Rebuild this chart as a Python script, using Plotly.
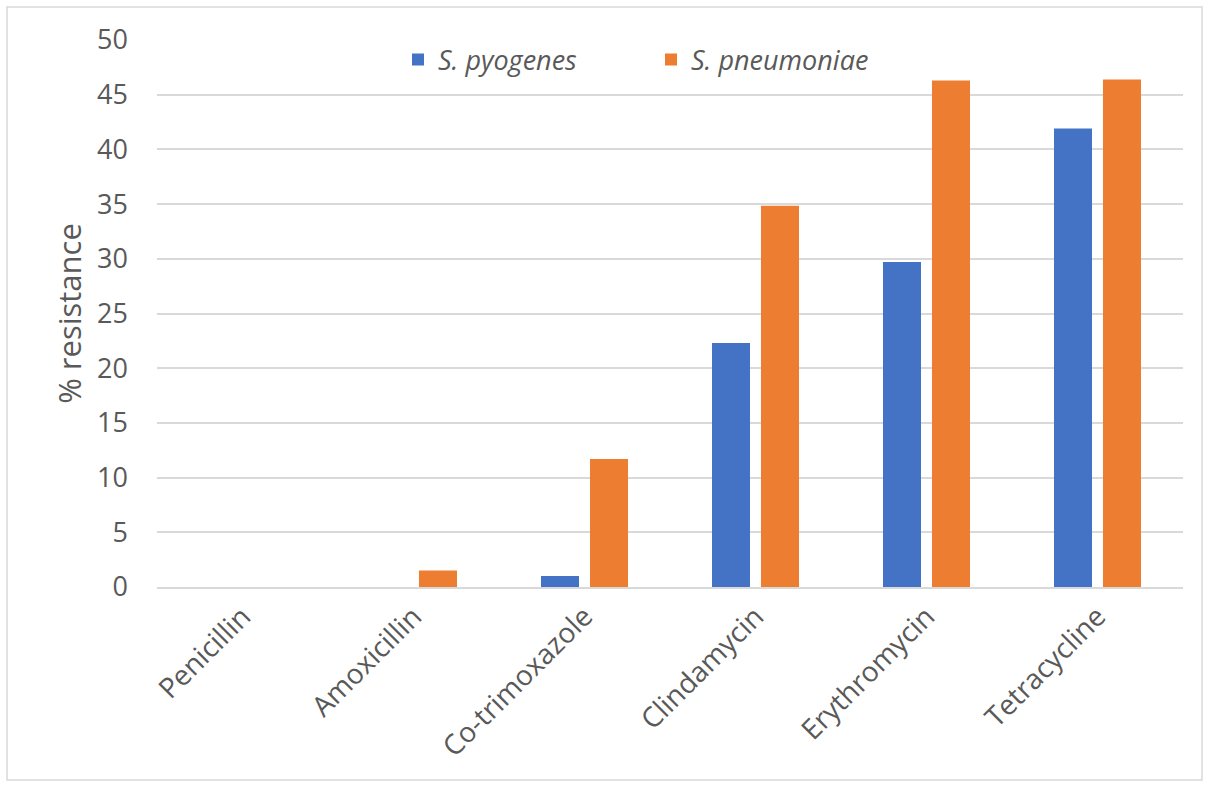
import plotly.graph_objects as go

categories = ["Penicillin", "Amoxicillin", "Co-trimoxazole", "Clindamycin", "Erythromycin", "Tetracycline"]
s_pyogenes = [0, 0, 1.0, 22.3, 29.7, 41.9]
s_pneumoniae = [0, 1.5, 11.7, 34.85, 46.3, 46.4]
y_ticks = [0, 5, 10, 15, 20, 25, 30, 35, 40, 45, 50]

W, H = 1209, 787
ML, MR, MT, MB = 157, 26, 40, 200

fig = go.Figure()
fig.add_trace(go.Bar(name="<i>S. pyogenes</i>", x=categories, y=s_pyogenes,
                     marker=dict(color="#4472C4", line=dict(width=0))))
fig.add_trace(go.Bar(name="<i>S. pneumoniae</i>", x=categories, y=s_pneumoniae,
                     marker=dict(color="#ED7D31", line=dict(width=0))))

pw = W - ML - MR
ph = H - MT - MB

fig.update_layout(
    width=W, height=H,
    margin=dict(l=ML, r=MR, t=MT, b=MB),
    paper_bgcolor="white", plot_bgcolor="white",
    barmode="group", bargap=0.427, bargroupgap=0.224,
    font=dict(family="Open Sans, Noto Sans, sans-serif", color="#595959", size=27),
    showlegend=True,
    legend=dict(orientation="h", x=(398 - ML) / pw, y=(587 - 60) / ph, xanchor="left", yanchor="middle",
                font=dict(size=27, color="#595959"), bgcolor="rgba(255,255,255,0)",
                itemwidth=30, traceorder="normal", entrywidth=208),
    xaxis=dict(tickangle=-45, showgrid=False, showline=True, linecolor="#d9d9d9", linewidth=2,
               tickfont=dict(size=28, color="#595959"), ticks=""),
    yaxis=dict(range=[0, 50], tickvals=y_ticks, showgrid=True, gridcolor="#d9d9d9", gridwidth=1.5,
               zeroline=False, showline=False, ticks="", ticklabelstandoff=28,
               tickfont=dict(size=27, color="#595959"),
               title=dict(text="% resistance", font=dict(size=31, color="#595959"), standoff=6)),
    shapes=[dict(type="rect", xref="paper", yref="paper",
                 x0=(7 - ML) / pw, x1=(1202 - ML) / pw,
                 y0=(H - MB - 780) / ph, y1=(H - MB - 7) / ph,
                 line=dict(color="#d9d9d9", width=1.5), fillcolor="rgba(0,0,0,0)", layer="below")],
)

fig.write_html("out.html")
